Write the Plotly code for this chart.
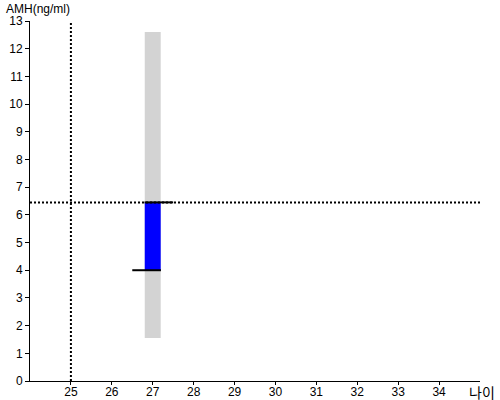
import plotly.graph_objects as go

# Data
ages = [27]
gray_low = [1.55]
gray_high = [12.6]
blue_low = [4.0]
blue_high = [6.45]
ref_age = 25
ref_amh = 6.45
x_ticks = [25, 26, 27, 28, 29, 30, 31, 32, 33, 34]
y_ticks = list(range(0, 14))
x_range = [24, 35]
y_range = [0, 13]

BAR_W = 0.39

fig = go.Figure()
fig.add_trace(go.Bar(x=ages, y=[h - l for h, l in zip(gray_high, gray_low)], base=gray_low,
                     width=BAR_W, marker=dict(color="#d3d3d3", line=dict(width=0)),
                     hoverinfo="skip"))
fig.add_trace(go.Bar(x=ages, y=[h - l for h, l in zip(blue_high, blue_low)], base=blue_low,
                     width=BAR_W, marker=dict(color="#0000ff", line=dict(width=0)),
                     hoverinfo="skip"))
# dotted reference lines
fig.add_trace(go.Scatter(x=[ref_age, ref_age], y=y_range, mode="lines",
                         line=dict(color="black", width=2, dash="2px,2px")))
fig.add_trace(go.Scatter(x=x_range, y=[ref_amh, ref_amh], mode="lines",
                         line=dict(color="black", width=2, dash="2px,2px")))
# black segments at bar ends
for a, v in zip(ages, blue_high):
    fig.add_trace(go.Scatter(x=[a - 0.2, a + 0.5], y=[v, v], mode="lines",
                             line=dict(color="black", width=2)))
for a, v in zip(ages, blue_low):
    fig.add_trace(go.Scatter(x=[a - 0.5, a + 0.2], y=[v, v], mode="lines",
                             line=dict(color="black", width=2)))

fig.update_layout(
    width=500, height=400, showlegend=False, barmode="overlay",
    plot_bgcolor="white", paper_bgcolor="white",
    margin=dict(l=30, r=20, t=21, b=19),
    font=dict(family="Liberation Sans, Arial, sans-serif", size=12, color="black"),
    xaxis=dict(range=x_range, tickvals=x_ticks, showgrid=False, zeroline=False,
               showline=True, linecolor="black", linewidth=1, automargin=False,
               ticks="outside", ticklen=3, tickcolor="black", ticklabelstandoff=-3),
    yaxis=dict(range=y_range, tickvals=y_ticks, showgrid=False, zeroline=False,
               showline=True, linecolor="black", linewidth=1, automargin=False,
               ticks="outside", ticklen=4, tickcolor="black"),
    annotations=[
        dict(text="AMH(ng/ml)", xref="paper", yref="paper", x=0, y=1.0, yshift=12, xshift=-26,
             xanchor="left", yanchor="middle", showarrow=False, font=dict(size=12)),
        dict(text="나이", xref="paper", yref="paper", x=1.0, y=0, yshift=-11, xshift=17,
             xanchor="right", yanchor="middle", showarrow=False,
             font=dict(size=14, family="Noto Sans CJK KR")),
    ],
)

fig.write_html("out.html", config={"displayModeBar": False},
               post_script="document.body.style.margin='0px';")
